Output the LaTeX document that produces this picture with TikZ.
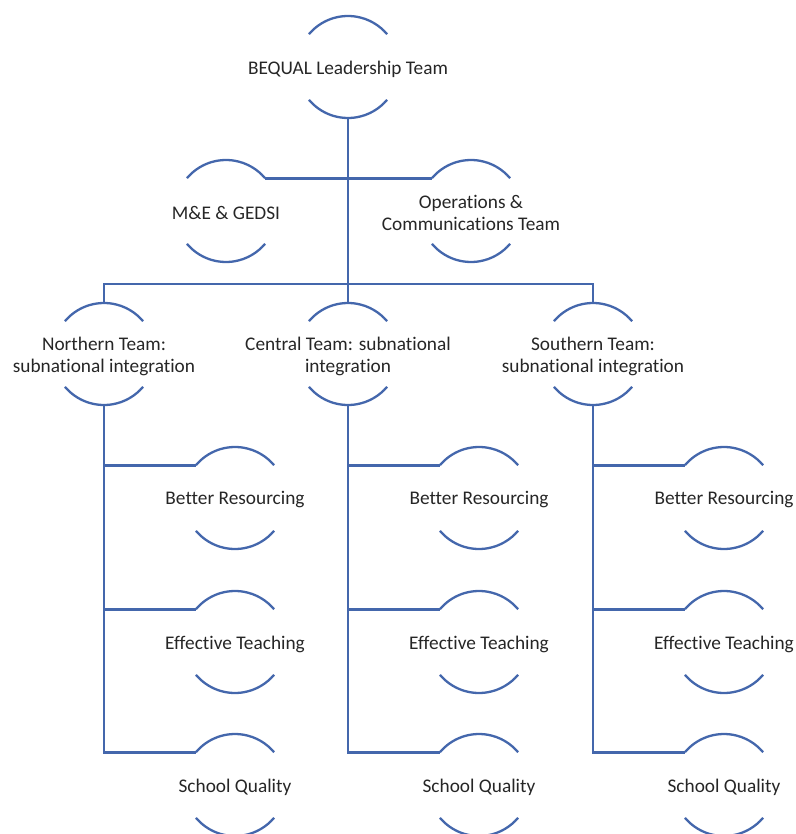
\documentclass[tikz,border=0pt]{standalone}
\usepackage{fontspec}
\setmainfont{Carlito}[Ligatures=NoCommon]
\definecolor{arcblue}{RGB}{68,103,172}
\definecolor{txt}{RGB}{38,38,38}
\tikzset{
  hub/.style={circle, minimum size=102pt, inner sep=0pt, outer sep=0pt},
  lbl/.style={inner sep=0pt, text=txt, align=center, yshift=-2pt, font=\fontsize{19.3}{22}\selectfont},
  arcline/.style={draw=arcblue, line width=2.3pt},
  conn/.style={draw=arcblue, line width=2.6pt}
}
\newcommand\arcnode[4]{%
  \node[hub] (#1) at (#2,#3) {};
  \node[lbl] (#1t) at (#1) {#4};
  \draw[arcline] (#1.140) arc[start angle=140, end angle=40, radius=51pt];
  \draw[arcline] (#1.220) arc[start angle=220, end angle=320, radius=51pt];
}
\begin{document}
\begin{tikzpicture}[x=1pt, y=-1pt]
\useasboundingbox (0,0) rectangle (795,834);
% top levels
\arcnode{lead}{348}{67}{BEQUAL Leadership Team}
\arcnode{me}{226}{211}{M\&E \& GEDSI}
\arcnode{ops}{471}{211}{Operations \&\\Communications Team}
% teams
\arcnode{north}{104}{354}{Northern Team:\\subnational integration}
\arcnode{central}{348}{354}{Central Team: subnational\\integration}
\arcnode{south}{593}{354}{Southern Team:\\subnational integration}
% children
\foreach \t/\x in {north/104, central/348, south/593}{
  \pgfmathsetmacro\cx{\x+131}
  \arcnode{\t a}{\cx}{498}{Better Resourcing}
  \arcnode{\t b}{\cx}{642}{Effective Teaching}
  \arcnode{\t c}{\cx}{785}{School Quality}
}
% connectors
\coordinate (bus) at (348,284);
\draw[conn] (lead.south) -- (central.north);
\draw[conn] (me.40) -- (ops.140);
\draw[conn] (north.north) -- (north.north |- bus) -- (south.north |- bus) -- (south.north);
\foreach \t in {north, central, south}{
  \draw[conn] (\t.south) |- (\t a.140);
  \draw[conn] (\t.south) |- (\t b.140);
  \draw[conn] (\t.south) |- (\t c.140);
}
\end{tikzpicture}
\end{document}
